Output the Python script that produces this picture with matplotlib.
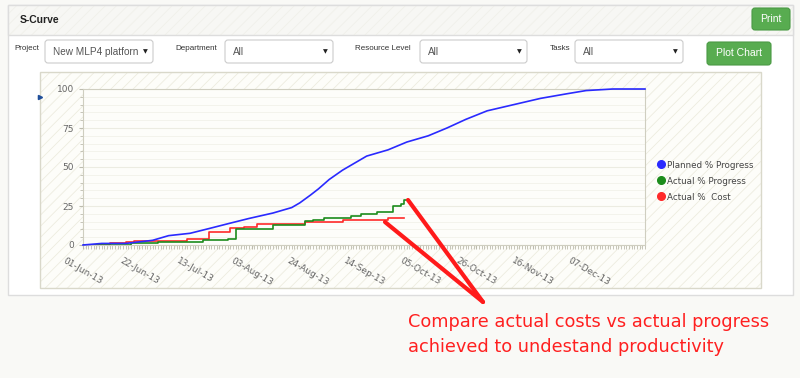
import numpy as np
import matplotlib
matplotlib.use("Agg")
import matplotlib.pyplot as plt
import matplotlib.dates as mdates
from matplotlib.patches import Rectangle, FancyBboxPatch
from matplotlib.lines import Line2D
from matplotlib.ticker import MultipleLocator

# data (days after 01-Jun-2013, percent)
start = np.datetime64("2013-06-01")
planned_days = [0, 7, 16, 21, 26, 32, 40, 47, 55, 62, 71, 78, 81, 85, 88, 92, 97, 106, 114, 121, 129, 136, 143, 151, 161, 171, 181, 188, 198, 210]
planned_pct = [0, 1, 1, 2, 3, 6, 7.5, 10.5, 14, 17, 20.5, 24, 27, 32, 36, 42, 48, 57, 61, 66, 70, 75, 80.5, 86, 90, 94, 97, 99, 100, 100]
actual_days = [0, 18, 28, 45, 54, 57, 71, 83, 86, 90, 96, 100, 104, 110, 116, 119, 120, 122]
actual_pct = [0, 1, 2, 3, 4, 10, 13, 15.5, 16, 17, 17.5, 18.5, 20, 21, 25, 26, 29, 29]
cost_days = [0, 10, 16, 19, 39, 47, 55, 60, 65, 83, 97, 114, 120]
cost_pct = [0, 1, 2, 2.5, 4, 8.6, 10.7, 11.8, 13.5, 14.5, 16, 17, 17]
tick_dates = ["2013-06-01", "2013-06-22", "2013-07-13", "2013-08-03", "2013-08-24",
              "2013-09-14", "2013-10-05", "2013-10-26", "2013-11-16", "2013-12-07"]

def to_dates(days):
    return start + np.array(days, dtype="timedelta64[D]")

plt.rcParams["hatch.linewidth"] = 0.6
fig = plt.figure(figsize=(8, 3.78), dpi=100, facecolor="#f9f9f6")

# page / panel in pixel coords
ui = fig.add_axes([0, 0, 1, 1], zorder=0)
ui.set_xlim(0, 800)
ui.set_ylim(378, 0)
ui.axis("off")

ui.add_patch(Rectangle((8, 5), 785, 290, facecolor="white", edgecolor="#dddddd", lw=1))
ui.add_patch(Rectangle((8, 5), 785, 30, facecolor="#f7f7f4", edgecolor="#f0f0ea", hatch="///", lw=0))
ui.add_patch(Rectangle((8, 5), 785, 30, facecolor="none", edgecolor="#dddddd", lw=1))
ui.text(20, 20, "S-Curve", fontsize=7.5, fontweight="bold", family="Liberation Sans", va="center", color="#222")

def button(x, y, w, h, label):
    ui.add_patch(FancyBboxPatch((x, y), w, h, boxstyle="round,pad=0,rounding_size=3",
                                facecolor="#58ac50", edgecolor="#4a9a44", lw=0.8))
    ui.text(x + w / 2, y + h / 2, label, color="white", fontsize=7.5,
            family="Liberation Sans", ha="center", va="center")

button(752, 8, 38, 22, "Print")
button(707, 42, 64, 23, "Plot Chart")

def dropdown(lx, label, x, w, value):
    ui.text(lx, 48, label, fontsize=5.8, family="Liberation Sans", va="center", color="#333")
    ui.add_patch(FancyBboxPatch((x, 40), w, 23, boxstyle="round,pad=0,rounding_size=3",
                                facecolor="white", edgecolor="#cccccc", lw=0.8))
    ui.text(x + 8, 52, value, fontsize=7.2, family="Liberation Sans", va="center", color="#555")
    ui.text(x + w - 8, 52, "▼", fontsize=4.5, family="DejaVu Sans", ha="center", va="center", color="#222")

dropdown(14, "Project", 45, 108, "New MLP4 platforn")
dropdown(175, "Department", 225, 108, "All")
dropdown(355, "Resource Level", 420, 107, "All")
dropdown(550, "Tasks", 575, 108, "All")

# chart container with hatch
ui.add_patch(Rectangle((40, 72), 721, 216, facecolor="#fdfdf9", edgecolor="#edecdf", hatch="///", lw=0))
ui.add_patch(Rectangle((40, 72), 721, 216, facecolor="none", edgecolor="#d9d8ca", lw=1))
ui.plot([40], [97], marker=">", color="#1f4e9a", markersize=3)

# plot area
ax = fig.add_axes([83 / 800, (378 - 245) / 378, 562 / 800, 156 / 378], zorder=2)
ax.set_facecolor("#fdfdfa")
ax.plot(to_dates(cost_days), cost_pct, color="#ff2a2a", lw=1.2, drawstyle="steps-post", zorder=3)
ax.plot(to_dates(actual_days), actual_pct, color="#1c8c1c", lw=1.2, drawstyle="steps-post", zorder=4)
ax.plot(to_dates(planned_days), planned_pct, color="#2a2aff", lw=1.2, zorder=5, clip_on=False)

ax.set_xlim(start, start + np.timedelta64(210, "D"))
ax.set_ylim(0, 100)
ax.set_xticks(np.array(tick_dates, dtype="datetime64[D]"))
ax.xaxis.set_major_formatter(mdates.DateFormatter("%d-%b-%y"))
ax.xaxis.set_minor_locator(mdates.DayLocator())
ax.set_yticks([0, 25, 50, 75, 100])
ax.yaxis.set_minor_locator(MultipleLocator(5))
ax.grid(axis="y", which="major", color="#ecece2", lw=0.8)
ax.grid(axis="y", which="minor", color="#f3f3ec", lw=0.7)
ax.set_axisbelow(True)
for s in ax.spines.values():
    s.set_color("#cfcec0")
ax.tick_params(axis="both", which="both", colors="#bdbcae", labelcolor="#666666", labelsize=6.5, length=3)
ax.tick_params(axis="y", which="minor", length=2)
ax.tick_params(axis="x", pad=5)
for lab in ax.get_xticklabels():
    lab.set_rotation(-30)
    lab.set_ha("center")
    lab.set_va("top")

handles = [Line2D([], [], ls="none", marker="o", markersize=5.5, color=c)
           for c in ["#2a2aff", "#1c8c1c", "#ff2a2a"]]
fig.legend(handles, ["Planned % Progress", "Actual % Progress", "Actual %  Cost"],
           loc="upper left", bbox_to_anchor=(652 / 800, 1 - 157 / 378), frameon=False,
           fontsize=6.3, labelcolor="#444444", handletextpad=0.1, labelspacing=0.8,
           handlelength=1.2, borderaxespad=0)

# annotation on top
top = fig.add_axes([0, 0, 1, 1], zorder=5)
top.set_xlim(0, 800)
top.set_ylim(378, 0)
top.axis("off")
top.plot([408, 483], [200, 302], color="#ff1a1a", lw=3, solid_capstyle="round")
top.plot([385, 483], [222, 302], color="#ff1a1a", lw=3, solid_capstyle="round")
top.text(408, 322, "Compare actual costs vs actual progress", color="#ff2020", fontsize=12.8, va="center")
top.text(408, 347, "achieved to undestand productivity", color="#ff2020", fontsize=12.8, va="center")

fig.savefig("out.png", dpi=100, facecolor=fig.get_facecolor())
